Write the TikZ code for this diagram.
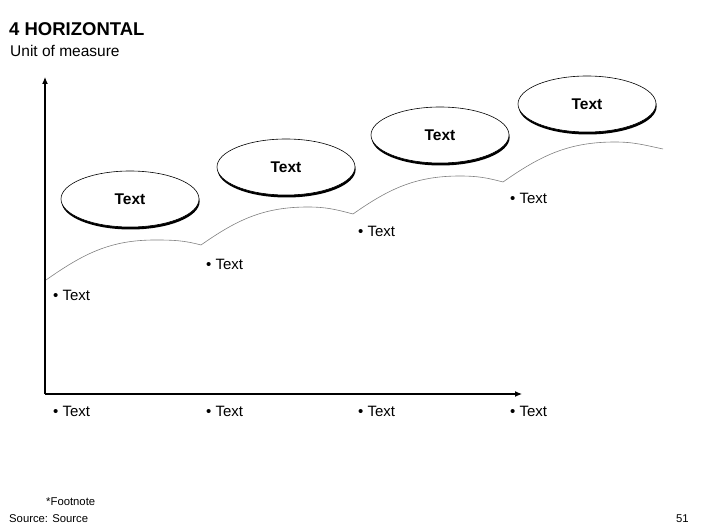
\documentclass[tikz,border=0pt]{standalone}
\usepackage{fontspec}
\setmainfont{Liberation Sans}
\usetikzlibrary{shapes.geometric,arrows.meta}

\tikzset{
  bubble/.style={ellipse, draw, fill=white, line width=0.6pt, minimum width=138pt, minimum height=56pt, inner sep=0pt,
    font=\fontsize{15.5}{18}\selectfont\bfseries,
    preaction={fill=black, transform canvas={xshift=0.6pt, yshift=-2.5pt}}},
  item/.style={anchor=west, inner sep=0pt, font=\fontsize{15}{18}\selectfont},
  small/.style={anchor=west, inner sep=0pt, font=\fontsize{11.3}{13}\selectfont},
  axis/.style={line width=1.1pt, -{Latex[length=7pt,width=6pt]}},
  trend/.style={gray, line width=0.6pt}
}

\begin{document}
\begin{tikzpicture}[x=1pt,y=-1pt]
		\useasboundingbox (0,0) rectangle (706,529);
		% title
		\node[anchor=west, inner sep=0pt, font=\fontsize{18.5}{22}\selectfont\bfseries] (title) at (9,29) {4 HORIZONTAL};
		\node[anchor=west, inner sep=0pt, font=\fontsize{15.5}{18}\selectfont] (unit) at (10,51) {Unit of measure};
		% axes
		\coordinate (o) at (45,394);
		\coordinate (ytop) at (45,77);
		\coordinate (xend) at (522,394);
		\draw[axis] (o) -- (ytop);
		\draw[axis] (o) -- (xend);
		% trend line
		\coordinate (s1) at (46,280);
		\coordinate (p1) at (155,240);
		\coordinate (s2) at (201,245);
		\coordinate (p2) at (308,207);
		\coordinate (s3) at (353,214);
		\coordinate (p3) at (460,176);
		\coordinate (s4) at (503,182);
		\coordinate (p4) at (615,142);
		\coordinate (e4) at (663,149);
		\draw[trend] (s1) to[out=35,in=180] (p1) to[out=0,in=165] (s2);
		\draw[trend] (s2) to[out=35,in=180] (p2) to[out=0,in=165] (s3);
		\draw[trend] (s3) to[out=35,in=180] (p3) to[out=0,in=165] (s4);
		\draw[trend] (s4) to[out=35,in=180] (p4) to[out=0,in=168] (e4);
		% bubbles
		\node[bubble] (b1) at (130,199) {Text};
		\node[bubble] (b2) at (286,167) {Text};
		\node[bubble] (b3) at (440,135) {Text};
		\node[bubble] (b4) at (587,104) {Text};
		% points on the line
		\node[item] (t1) at (53,295) {• Text};
		\node[item] (t2) at (206,264) {• Text};
		\node[item] (t3) at (358,231) {• Text};
		\node[item] (t4) at (510,198) {• Text};
		% x axis labels
		\node[item] (x1) at (53,411) {• Text};
		\node[item] (x2) at (206,411) {• Text};
		\node[item] (x3) at (358,411) {• Text};
		\node[item] (x4) at (510,411) {• Text};
		% footer
		\node[small] (foot) at (46,502) {*Footnote};
		\node[small] (src) at (9,519) {Source: Source};
		\node[small] (page) at (676,519) {51};
		\end{tikzpicture}
\end{document}
